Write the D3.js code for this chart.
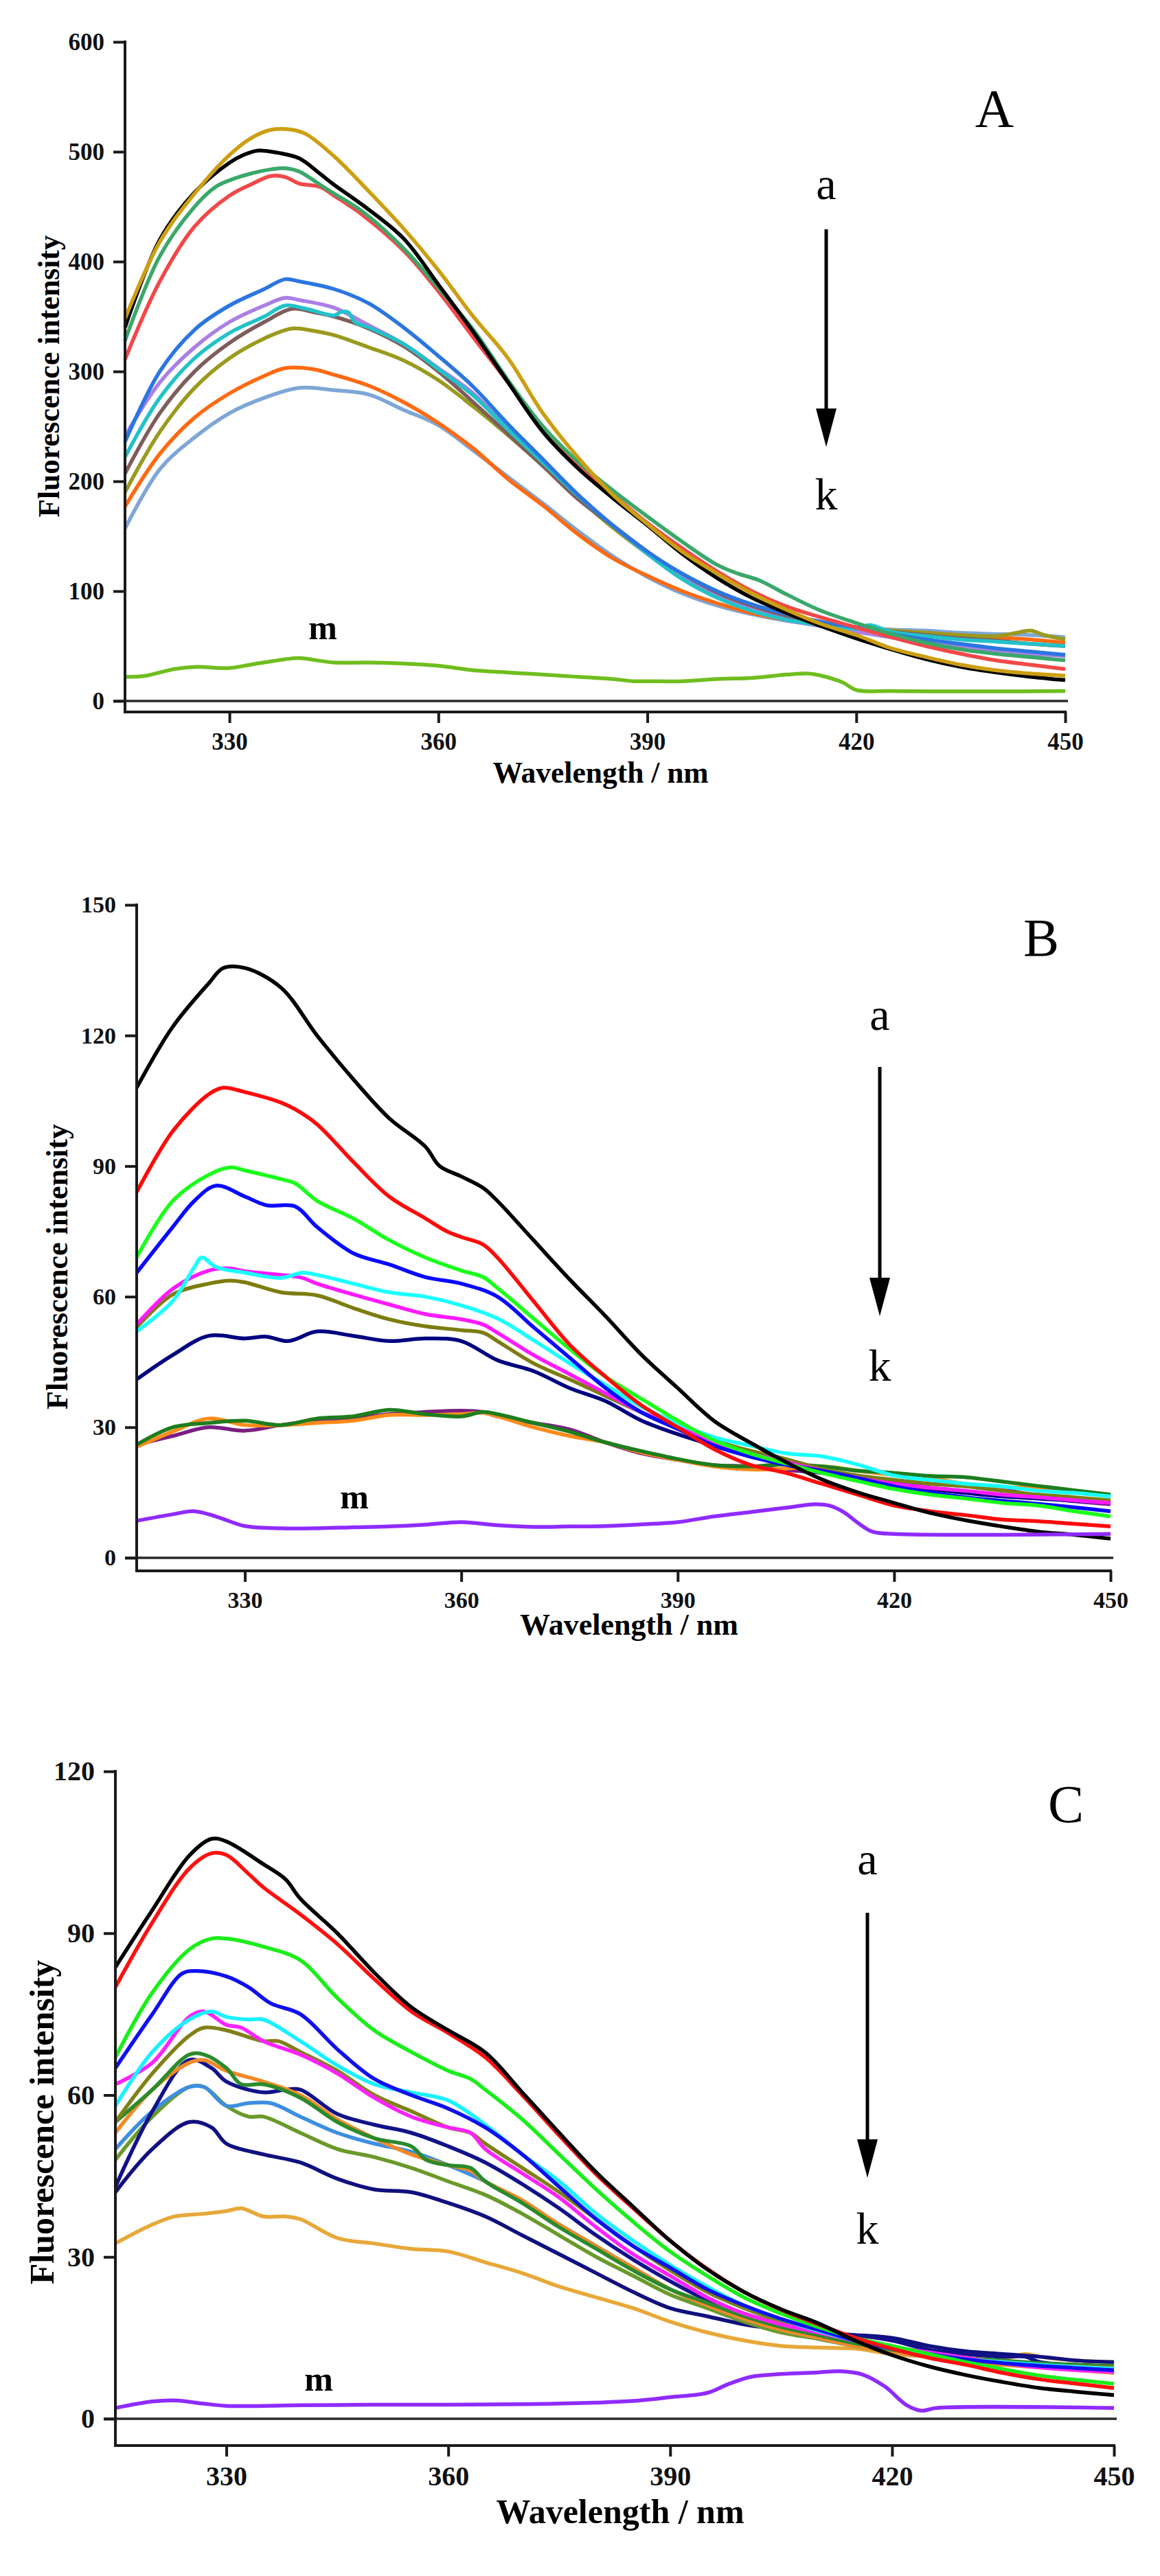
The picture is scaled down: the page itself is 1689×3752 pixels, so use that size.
<!DOCTYPE html>
<html>
<head>
<meta charset="utf-8">
<script src="https://cdn.jsdelivr.net/npm/d3@7"></script>
<style>
  body { margin: 0; background: #fff; }
  .tick text, .lbl { font-family: "Liberation Serif", "Times New Roman", serif; }
</style>
</head>
<body>
<div id="chart"></div>
<script>

// shared wavelength axis
var wlDomain = [315, 450];
var wlTicks = [330, 360, 390, 420, 450];

// ---- panel A ----
var ticksA = [0, 100, 200, 300, 400, 500, 600];
var aGold = [[315,348],[320,418],[325,462],[330,497],[333,512],[336,520],[339,520],[341,516],[345,496],[350,464],[355,430],[360,392],[365,350],[370,312],[375,262],[380,222],[385,188],[390,161],[395,136],[400,116],[405,98],[410,83],[415,70],[420,60],[425,48],[430,40],[435,33],[440,28],[445,25],[450,23]];
var aBlack = [[315,340],[320,420],[325,463],[330,490],[332,497],[334,501],[337,499],[340,494],[343,480],[345,470],[349,452],[355,421],[360,379],[365,336],[370,290],[375,245],[380,212],[385,185],[390,160],[395,134],[400,112],[405,94],[410,80],[415,68],[420,57],[425,47],[430,38],[435,31],[440,26],[445,22],[450,19]];
var aGreen = [[315,328],[320,405],[325,450],[328,468],[330,474],[333,480],[336,484],[338,485],[340,482],[343,470],[345,462],[349,446],[355,412],[360,376],[365,338],[370,292],[375,250],[380,218],[385,192],[390,168],[395,145],[400,124],[403,116],[406,110],[410,97],[415,82],[420,71],[425,61],[430,53],[435,47],[440,43],[445,40],[450,37]];
var aRed = [[315,311],[320,382],[325,432],[330,460],[333,470],[336,478],[338,477],[340,471],[343,468],[345,460],[349,443],[355,410],[360,373],[365,331],[370,290],[375,246],[380,214],[385,188],[390,162],[395,139],[400,118],[405,100],[410,86],[415,76],[420,67],[425,58],[430,50],[435,43],[440,37],[445,33],[450,29]];
var aBlue = [[315,236],[320,300],[325,338],[330,360],[335,375],[338,384],[340,382],[345,375],[350,362],[355,340],[360,314],[365,286],[370,252],[375,220],[380,188],[385,160],[390,136],[395,116],[400,100],[405,88],[410,79],[415,72],[420,67],[425,61],[430,56],[435,52],[440,48],[445,45],[450,42]];
var aViolet = [[315,241],[320,290],[325,322],[330,345],[335,360],[338,367],[340,365],[345,358],[350,342],[355,325],[360,303],[365,280],[370,248],[375,218],[380,188],[385,160],[390,134],[395,112],[400,95],[405,83],[410,74],[415,68],[420,63],[425,58],[430,53],[435,49],[440,46],[445,43],[450,41]];
var aCyan = [[315,222],[320,276],[325,312],[330,335],[335,350],[338,360],[341,357],[345,351],[346,354],[347,354],[348,345],[350,340],[355,325],[360,302],[365,278],[370,247],[375,217],[380,187],[385,160],[390,134],[395,111],[400,94],[405,82],[410,74],[415,69],[420,66],[422,69],[425,63],[430,59],[435,56],[440,54],[445,52],[450,50]];
var aBrown = [[315,207],[320,262],[325,300],[330,326],[335,345],[339,357],[342,354],[345,350],[350,339],[355,323],[360,300],[365,272],[370,243],[375,214],[380,184],[385,160],[390,136],[395,114],[400,97],[405,85],[410,76],[415,70],[420,66],[425,63],[430,60],[435,57],[440,55],[445,52],[450,50]];
var aOlive = [[315,190],[320,245],[325,285],[330,312],[335,330],[339,339],[342,337],[345,333],[350,322],[355,310],[360,292],[365,268],[370,242],[375,214],[380,185],[385,158],[390,134],[395,113],[400,97],[405,86],[410,78],[415,72],[420,67],[425,64],[430,62],[435,60],[440,59],[443,62],[445,64],[447,60],[450,56]];
var aOrange = [[315,177],[320,225],[325,258],[330,280],[335,296],[338,303],[342,302],[345,297],[350,287],[355,272],[360,253],[365,230],[370,202],[375,178],[380,152],[385,130],[390,114],[395,100],[400,89],[405,80],[410,74],[415,70],[420,67],[425,64],[430,62],[435,60],[440,58],[445,56],[450,53]];
var aLightBlue = [[315,157],[320,211],[325,240],[330,262],[335,276],[340,285],[345,283],[350,279],[355,265],[360,251],[365,228],[370,204],[375,180],[380,155],[385,132],[390,113],[395,98],[400,87],[405,79],[410,73],[415,69],[420,67],[425,65],[430,64],[435,62],[440,61],[445,60],[450,58]];
var aM = [[315,22],[318,23],[322,29],[325,31],[330,30],[333,33],[338,38],[340,39],[345,35],[350,35],[355,34],[360,32],[365,28],[370,26],[375,24],[380,22],[385,20],[388,18],[390,18],[395,18],[400,20],[405,21],[410,24],[413,25],[415,23],[418,17],[420,10],[425,9],[450,9]];

// ---- panel B ----
var ticksB = [0, 30, 60, 90, 120, 150];
var bBlack = [[315,108],[320,122],[325,132],[327,135.5],[330,135.5],[335,131],[340,120],[345,110],[350,101],[355,94.5],[357,90],[360,87.6],[363,85],[365,82],[370,73],[375,64],[380,55.5],[385,46.6],[390,39],[395,31.5],[400,26.5],[405,22],[410,18],[415,15],[420,12.6],[425,10.3],[430,8.6],[435,7.2],[440,6],[445,5.3],[450,4.4]];
var bRed = [[315,84],[320,98],[325,106.5],[327,108],[330,107],[335,104.6],[337,103],[340,99.6],[345,91],[350,83],[355,78],[358,75],[360,73.7],[363,72],[365,69],[370,59],[375,49],[380,41.6],[385,35],[390,30],[395,25],[400,21.4],[405,19.5],[410,17],[415,14.5],[420,12],[425,10.7],[430,9.8],[435,8.8],[440,8.4],[445,7.8],[450,7.2]];
var bLime = [[315,69],[320,82],[325,88],[328,89.7],[330,89],[335,87],[337,86],[340,82],[345,78],[350,73],[355,69],[360,66],[363,64.5],[365,62],[370,55],[375,48],[380,41.6],[385,36.5],[390,31.5],[395,27],[400,24],[405,21.7],[410,19.5],[415,17.6],[420,15.8],[425,14.5],[430,13.6],[435,12.6],[440,12],[445,10.7],[450,9.5]];
var bBlue = [[315,65.5],[320,76],[323,82],[326,85.5],[330,83],[333,81],[337,80.7],[340,76],[345,70],[350,67.4],[355,64.5],[360,63],[365,60],[370,53],[375,46],[380,39],[385,33.4],[390,29.6],[395,25.8],[400,23.3],[405,21.4],[410,20],[415,18.3],[420,16.4],[425,15],[430,13.9],[435,13.1],[440,12.4],[445,11.6],[450,10.7]];
var bCyan = [[315,52],[320,59],[323,66.8],[324,69],[326,66.8],[330,65.5],[335,64.3],[338,65.5],[340,65],[345,63],[350,61],[355,60],[360,58],[365,55],[370,50],[375,44.7],[380,39.7],[385,34.7],[390,30.9],[395,27.7],[400,25.8],[405,24],[410,23.3],[415,21.4],[420,18.9],[425,17.9],[430,17],[435,16.4],[440,15.4],[445,14.9],[450,14.1]];
var bMagenta = [[315,53.6],[320,61.8],[325,66],[328,66.5],[330,65.8],[335,65],[338,64.3],[340,63],[345,60.5],[350,58.2],[355,56],[360,54.8],[363,53.6],[365,51.7],[370,46.6],[375,42.2],[380,37.8],[385,33.4],[390,30.3],[395,26.5],[400,24],[405,22],[410,20],[415,18.3],[420,17],[425,16.1],[430,15.4],[435,14.5],[440,13.9],[445,13.2],[450,12.6]];
var bOlive = [[315,53],[320,60.5],[325,63],[328,63.7],[330,63.3],[335,61],[340,60.3],[345,57.4],[350,54.8],[355,53.2],[360,52.3],[363,51.7],[365,49.8],[370,44.7],[375,41],[380,37.2],[385,33.4],[390,30.3],[395,27],[400,24.6],[405,22.7],[410,20.4],[415,18.9],[420,17.9],[425,17],[430,16.4],[435,15.4],[440,14.5],[445,13.9],[450,13.2]];
var bNavy = [[315,41],[320,46.6],[325,51],[330,50.4],[333,50.8],[336,49.8],[340,52],[345,51],[350,49.8],[355,50.4],[360,49.8],[365,45.4],[370,42.9],[375,39],[380,36],[385,31.5],[390,28.4],[395,25.8],[400,23.3],[405,21.4],[410,19.5],[415,18.3],[420,17],[425,15.8],[430,14.9],[435,14.1],[440,13.6],[445,13.1],[450,12.6]];
var bGreen = [[315,26],[320,30],[325,31],[330,31.5],[335,30.5],[340,32],[345,32.5],[350,34],[355,33],[360,32.5],[363,33.5],[365,33],[370,31],[375,29],[380,26.5],[385,24.5],[390,22.7],[395,21.3],[400,21],[405,21.5],[410,21],[415,20],[420,19.5],[425,18.8],[430,18.5],[435,17.5],[440,16.5],[445,15.5],[450,14.5]];
var bOrange = [[315,25.5],[320,29],[325,32],[330,30.5],[335,30.5],[340,31],[345,31.5],[350,32.8],[355,32.8],[360,33],[363,33.3],[365,32.5],[370,30],[375,28],[380,26.5],[385,24.2],[390,22.5],[395,21],[400,20.3],[405,20.5],[410,21],[415,20],[420,19],[425,18.3],[430,17],[435,16.3],[440,16],[445,15.3],[450,14.5]];
var bPurple = [[315,26],[320,28],[325,30],[330,29.2],[335,30.5],[340,31.5],[345,32],[350,33],[355,33.5],[360,33.8],[363,33.5],[365,32.5],[370,31],[375,29.5],[380,26.5],[385,24],[390,22.5],[395,21.3],[400,21],[405,20.2],[410,19.5],[415,18.5],[420,17.3],[425,17],[430,16.5],[435,15.8],[440,14],[445,13],[450,12.3]];
var bM = [[315,8.5],[320,10],[323,10.7],[326,9.5],[330,7.3],[335,6.8],[340,6.8],[345,7],[350,7.2],[355,7.6],[360,8.2],[365,7.5],[370,7.1],[375,7.2],[380,7.3],[385,7.7],[390,8.2],[395,9.5],[400,10.5],[405,11.5],[409,12.3],[411,12],[413,10.5],[415,8],[417,6],[420,5.5],[450,5.5]];

// ---- panel C ----
var ticksC = [0, 30, 60, 90, 120];
var cBlack = [[315,83.7],[320,94.3],[325,104.4],[328,107.5],[330,107],[335,102.8],[338,100],[340,96.4],[345,90],[350,82.7],[355,76.3],[360,72],[365,67.9],[370,60.5],[375,53],[380,45.7],[385,39.3],[390,33],[395,27.7],[400,23.5],[405,20.3],[410,17.7],[415,14.5],[420,11.8],[425,9.7],[430,8.1],[435,6.8],[440,5.7],[445,5],[450,4.4]];
var cRed = [[315,80],[320,92],[325,102],[328,104.8],[330,104.5],[333,101],[335,98.5],[340,93.5],[345,88],[350,81.5],[355,75.5],[360,71.5],[365,67],[370,60],[375,52.5],[380,45.3],[385,39],[390,33],[395,27.8],[400,23.5],[405,20.2],[410,17.5],[415,15],[420,13],[425,11.3],[430,10],[435,8.5],[440,7.3],[445,6.5],[450,5.7]];
var cLime = [[315,67],[320,79],[325,87],[328,89],[330,89],[335,87.5],[340,85],[345,78],[350,72],[355,68],[360,64.5],[363,63],[365,61],[370,55.5],[375,49],[380,42.5],[385,36.5],[390,31],[395,26.5],[400,22.5],[405,19.5],[410,17],[415,15],[420,13.5],[425,12],[430,10.5],[435,9.2],[440,8],[445,7.2],[450,6.5]];
var cBlue = [[315,65],[320,75],[324,82.5],[326,83],[330,82],[333,80],[336,77],[340,75],[345,68.5],[350,63],[355,60],[360,57.5],[365,54],[370,49],[375,43],[380,37],[385,32],[390,28],[395,24],[400,21],[405,18.5],[410,16.5],[415,14.5],[420,13],[425,12],[430,11],[435,10.3],[440,9.8],[445,9.4],[450,9]];
var cCyan = [[315,58],[320,68],[325,74],[328,75.5],[330,74.5],[333,74],[335,74],[340,70],[345,65.5],[350,62],[355,60.5],[360,59],[365,54.5],[370,49],[375,44],[380,38],[385,33],[390,28.5],[395,24.5],[400,21],[405,18.5],[410,16.3],[415,14.5],[420,13],[425,12],[430,11],[435,10.5],[440,10],[445,9.6],[450,9.3]];
var cMagenta = [[315,62],[320,66],[325,74.5],[327,75.5],[330,73],[332,72.5],[335,70],[340,67.5],[345,64],[350,59.5],[355,56],[360,54],[363,53],[365,50],[370,45.5],[375,41],[380,35.5],[385,30.5],[390,26.5],[395,22.5],[400,19.5],[405,17.5],[410,16],[415,14.5],[420,13.3],[425,12.3],[430,11.3],[435,10.3],[440,9.5],[445,9],[450,8.7]];
var cOlive = [[315,55],[320,64],[325,71],[327,72.5],[330,72],[335,70],[337,70],[340,68],[345,64.5],[350,60],[355,57],[360,54],[363,53],[365,51],[370,46.5],[375,42],[380,37],[385,32],[390,27.5],[395,23.5],[400,20.5],[405,18],[410,16],[415,14.5],[420,13],[425,12],[430,11.2],[435,10.5],[440,10],[445,9.7],[450,9.5]];
var cGreen = [[315,55],[320,61],[325,67.5],[327,67.5],[330,65],[332,62],[335,62],[340,59.5],[345,55],[350,52],[355,50.5],[357,48],[360,47],[363,46.5],[365,44],[370,40],[375,35.5],[380,31.5],[385,27.5],[390,24],[395,21.5],[400,19],[405,17],[410,15.5],[415,14],[420,12.8],[425,12],[430,11.3],[435,10.8],[440,10.3],[445,10],[450,9.7]];
var cOrange = [[315,53],[320,61],[325,66],[327,66.5],[330,64.5],[335,62.5],[340,60],[345,55.5],[350,52],[355,49],[360,47],[363,46],[365,44],[370,40.5],[375,36],[380,32],[385,28],[390,24],[395,21],[400,18.5],[405,16.5],[410,15],[415,13.5],[420,12.5],[425,11.5],[430,10.5],[435,10],[440,9.5],[445,9],[450,8.5]];
var cNavy1 = [[315,43],[320,57],[325,66.5],[328,65],[330,62.5],[335,60.5],[338,61],[340,61],[345,56.5],[350,54.5],[355,53],[360,50.5],[365,47.5],[370,43.5],[375,39],[380,34],[385,29.5],[390,25.5],[395,22],[400,19.5],[405,17.5],[410,16],[415,15.5],[420,14.5],[425,12.8],[430,12],[435,11.5],[438,11.5],[440,10.5],[445,10],[450,9.7]];
var cSky = [[315,50],[320,57],[325,61.5],[327,61.5],[330,58],[333,58.5],[336,58.5],[340,56],[345,53],[350,51],[355,49.5],[360,47],[365,44],[370,40],[375,36],[380,32],[385,28],[390,24],[395,21],[400,18.5],[405,16.5],[410,15],[415,13.5],[420,12.5],[425,11.5],[430,10.8],[435,10.2],[440,9.8],[445,9.5],[450,9.2]];
var cDrab = [[315,48],[320,56],[325,61.5],[327,61.5],[330,58],[333,56],[335,56],[340,53],[345,50],[350,48.5],[355,46.5],[360,44],[365,41.5],[370,38],[375,34],[380,30],[385,26.5],[390,23],[395,20.5],[400,18],[405,16],[410,14.8],[415,13.5],[420,12.5],[425,11.8],[430,11],[435,10.5],[440,10.2],[445,10],[450,9.8]];
var cNavy2 = [[315,42],[320,50],[325,55],[328,54],[330,51],[335,49],[340,47.5],[345,44.5],[350,42.5],[355,42],[360,40],[365,37.5],[370,34],[375,30.5],[380,27],[385,23.5],[390,20.5],[395,19],[400,17.5],[405,16.5],[410,15.5],[415,15.5],[420,15],[425,13.5],[430,12.5],[435,12],[440,11.5],[445,10.8],[450,10.5]];
var cGold = [[315,32.5],[320,36],[323,37.5],[327,38],[330,38.5],[332,39],[335,37.5],[338,37.5],[340,37],[345,33.5],[350,32.5],[355,31.5],[360,31],[365,29],[370,27],[375,24.5],[380,22.5],[385,20.5],[390,18],[395,16],[400,14.5],[405,13.5],[410,13.2],[415,13],[420,12],[425,11.5],[430,11],[435,11],[438,12],[440,11.5],[445,10.8],[450,10.5]];
var cM = [[315,2],[320,3.2],[323,3.4],[327,2.8],[330,2.4],[340,2.5],[350,2.6],[360,2.6],[370,2.7],[380,3],[385,3.3],[390,4],[395,4.8],[398,6.5],[401,7.8],[405,8.3],[410,8.6],[413,8.8],[416,8.2],[419,6],[422,2.5],[424,1.5],[426,2],[450,2]];

var panels = [
    {
        letter: "A", yMax: 600, yTicks: ticksA,
        left: 182, right: 1551, top: 61, zero: 1021, bottom: 1037,
        tickFont: 35, titleFont: 43.5, xTitleY: 1140, yTitleX: 86, yTitleY: 548,
        letterX: 1448, letterY: 184, arrowX: 1203, aY: 290, arrowTop: 334, arrowTip: 651, kY: 742,
        mX: 470, mY: 931,
        series: [
            [aLightBlue, "#7ea6d6"], [aOrange, "#ff6a12"], [aOlive, "#9a9a1e"], [aBrown, "#7f5d5d"],
            [aViolet, "#ab7fe6"], [aCyan, "#22c2c8"], [aBlue, "#2b76e0"], [aRed, "#f24848"],
            [aGreen, "#3aa86a"], [aBlack, "#000000"], [aGold, "#cc9f12"], [aM, "#6fbe1e"]
        ]
    },
    {
        letter: "B", yMax: 150, yTicks: ticksB,
        left: 199, right: 1617, top: 1318, zero: 2269, bottom: 2288,
        tickFont: 34, titleFont: 44, xTitleY: 2381, yTitleX: 98, yTitleY: 1845,
        letterX: 1516, letterY: 1392, arrowX: 1281, aY: 1500, arrowTop: 1554, arrowTip: 1917, kY: 2011,
        mX: 516, mY: 2197,
        series: [
            [bPurple, "#7a1f82"], [bOrange, "#ff8c1a"], [bGreen, "#1e7d1e"], [bNavy, "#000080"],
            [bOlive, "#7d7d10"], [bMagenta, "#ff1aff"], [bCyan, "#1affff"], [bBlue, "#0a0aff"],
            [bLime, "#1aff1a"], [bRed, "#ff0a0a"], [bBlack, "#000000"], [bM, "#8f2bff"]
        ]
    },
    {
        letter: "C", yMax: 120, yTicks: ticksC,
        left: 168, right: 1622, top: 2580, zero: 3523, bottom: 3562,
        tickFont: 40, titleFont: 50, xTitleY: 3675, yTitleX: 78, yTitleY: 3091,
        letterX: 1552, letterY: 2654, arrowX: 1263, aY: 2730, arrowTop: 2786, arrowTip: 3172, kY: 3268,
        mX: 464, mY: 3482,
        series: [
            [cGold, "#e8a838"], [cNavy2, "#10107f"], [cDrab, "#6a9a2a"], [cSky, "#3d8fe0"],
            [cNavy1, "#12128a"], [cOrange, "#f08a28"], [cGreen, "#2c8a2c"], [cOlive, "#808018"],
            [cMagenta, "#ff22ff"], [cCyan, "#1af0ff"], [cBlue, "#1010ee"], [cLime, "#1aee1a"],
            [cRed, "#ff1010"], [cBlack, "#000000"], [cM, "#8f2bff"]
        ]
    }
];

var svg = d3.select("#chart").append("svg")
    .attr("width", 1689)
    .attr("height", 3752)
    .style("background", "#fff");

function drawPanel(p) {
    var x = d3.scaleLinear().domain(wlDomain).range([p.left, p.right]);
    var y = d3.scaleLinear().domain([0, p.yMax]).range([p.zero, p.top]);
    var g = svg.append("g").attr("class", "panel-" + p.letter);

    var line = d3.line()
        .x(function(d) { return x(d[0]); })
        .y(function(d) { return y(d[1]); })
        .curve(d3.curveCatmullRom.alpha(0.5));

    // baseline at zero
    g.append("line")
        .attr("x1", p.left - 17).attr("x2", p.right + 4)
        .attr("y1", y(0)).attr("y2", y(0))
        .attr("stroke", "#2a2a2a").attr("stroke-width", 3.5);

    p.series.forEach(function(s) {
        g.append("path")
            .datum(s[0])
            .attr("fill", "none")
            .attr("stroke", s[1])
            .attr("stroke-width", 5.5)
            .attr("stroke-linejoin", "round")
            .attr("d", line);
    });

    // axes
    var yAxis = g.append("g")
        .attr("transform", "translate(" + p.left + ",0)")
        .call(d3.axisLeft(y).tickValues(p.yTicks).tickSize(17).tickSizeOuter(0).tickPadding(13));
    yAxis.select(".domain").remove();

    var xAxis = g.append("g")
        .attr("transform", "translate(0," + p.bottom + ")")
        .call(d3.axisBottom(x).tickValues(wlTicks).tickSize(16).tickSizeOuter(0).tickPadding(14));
    xAxis.select(".domain").remove();

    g.append("path")
        .attr("d", "M" + p.left + "," + p.top + "V" + p.bottom + "H" + p.right)
        .attr("fill", "none").attr("stroke", "#1a1a1a").attr("stroke-width", 4)
        .attr("stroke-linecap", "square");

    g.selectAll(".tick line").attr("stroke", "#1a1a1a").attr("stroke-width", 4);
    g.selectAll(".tick text")
        .attr("fill", "#111")
        .style("font-size", p.tickFont + "px")
        .style("font-weight", "bold");

    // titles
    g.append("text")
        .attr("class", "lbl")
        .attr("text-anchor", "middle")
        .attr("x", (p.left + p.right) / 2 + 8)
        .attr("y", p.xTitleY)
        .style("font-size", p.titleFont + "px")
        .style("font-weight", "bold")
        .text("Wavelength / nm");

    g.append("text")
        .attr("class", "lbl")
        .attr("text-anchor", "middle")
        .attr("transform", "translate(" + p.yTitleX + "," + p.yTitleY + ") rotate(-90)")
        .style("font-size", p.titleFont + "px")
        .style("font-weight", "bold")
        .text("Fluorescence intensity");

    // panel letter, arrow and curve labels
    g.append("text").attr("class", "lbl")
        .attr("text-anchor", "middle").attr("x", p.letterX).attr("y", p.letterY)
        .style("font-size", "78px").text(p.letter);

    g.append("text").attr("class", "lbl")
        .attr("text-anchor", "middle").attr("x", p.arrowX).attr("y", p.aY)
        .style("font-size", "66px").text("a");

    g.append("text").attr("class", "lbl")
        .attr("text-anchor", "middle").attr("x", p.arrowX).attr("y", p.kY)
        .style("font-size", "66px").text("k");

    g.append("line")
        .attr("x1", p.arrowX).attr("x2", p.arrowX)
        .attr("y1", p.arrowTop).attr("y2", p.arrowTip - 50)
        .attr("stroke", "#000").attr("stroke-width", 5);

    g.append("path")
        .attr("d", "M" + (p.arrowX - 15) + "," + (p.arrowTip - 56) +
                   "L" + (p.arrowX + 15) + "," + (p.arrowTip - 56) +
                   "L" + p.arrowX + "," + p.arrowTip + "Z")
        .attr("fill", "#000");

    g.append("text").attr("class", "lbl")
        .attr("text-anchor", "middle").attr("x", p.mX).attr("y", p.mY)
        .style("font-size", "50px").style("font-weight", "bold").text("m");
}

panels.forEach(drawPanel);

</script>
</body>
</html>
